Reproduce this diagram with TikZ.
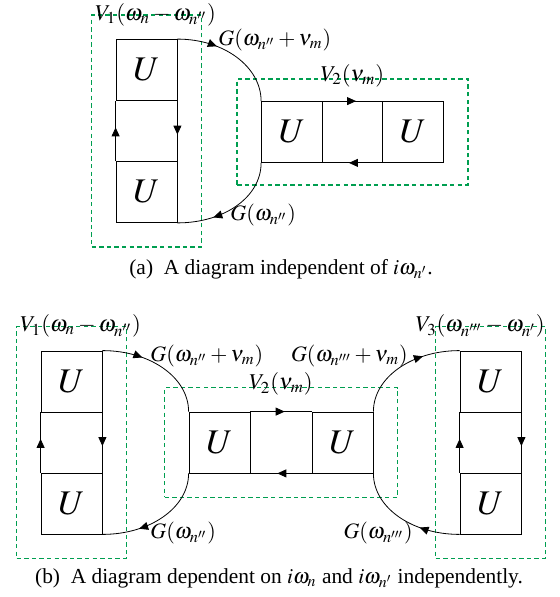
\documentclass[tikz,border=0pt]{standalone}
\usepackage{mathptmx}
\usepackage[no-math]{fontspec}
\setmainfont{Liberation Serif}
\usetikzlibrary{arrows.meta,decorations.markings,fit}
\definecolor{boxgreen}{RGB}{0,158,80}
\tikzset{
  ubox/.style={rectangle, draw, minimum size=30.5pt, inner sep=0pt, font=\LARGE},
  vbox/.style={rectangle, draw=boxgreen, line width=0.65pt, dash pattern=on 2.2pt off 1.6pt, inner sep=12pt},
  vlab/.style={inner sep=0pt, font=\fontsize{11.3}{13}\selectfont},
  glab/.style={inner sep=0pt, anchor=west, font=\fontsize{11}{13}\selectfont},
  caplab/.style={font=\fontsize{10.7}{13}\selectfont},
  prop/.style={postaction={decorate}, decoration={markings,
      mark=at position #1 with {\arrow{Triangle[length=4.5pt,width=4pt]}}}},
  prop/.default=0.56
}

\begin{document}
\begin{tikzpicture}[x=0.5pt, y=-0.5pt]
  \useasboundingbox (0,0) rectangle (559,597);

  % (a) U boxes
  \node[ubox] (Ua1) at (146.5,70) {$U$};
  \node[ubox] (Ua2) at (146.5,192) {$U$};
  \node[ubox] (Ua3) at (292,132) {$U$};
  \node[ubox] (Ua4) at (413,132) {$U$};

  % (a) vertices
  \node[vbox, fit=(Ua1) (Ua2)] (V1a) {};
  \node[vbox, fit=(Ua3) (Ua4), inner ysep=11pt] (V2a) {};

  % (a) propagators
  \draw[prop] (Ua2.north west) -- (Ua1.south west);
  \draw[prop] (Ua1.south east) -- (Ua2.north east);
  \draw[prop] (Ua3.north east) -- (Ua4.north west);
  \draw[prop] (Ua4.south west) -- (Ua3.south east);
  \draw[prop=0.35] (Ua1.north east) .. controls +(47,0) and +(0,-34) .. (Ua3.north west);
  \draw[prop=0.68] (Ua3.south west) .. controls +(0,34) and +(47,0) .. (Ua2.south east);

  % (a) labels
  \node[vlab, anchor=west, xshift=2pt] (V1alab) at (V1a.north west) {$V_1(\omega_n-\omega_{n''})$};
  \node[vlab, yshift=1.5pt] (V2alab) at (V2a.north) {$V_2(\nu_m)$};
  \node[glab] (Ga1) at (218,40) {$G(\omega_{n''}+\nu_m)$};
  \node[glab] (Ga2) at (230,215) {$G(\omega_{n''})$};
  \node[caplab] (capa) at (281,269) {(a)\ \ A diagram independent of $i\omega_{n'}$.};

  % (b) U boxes
  \node[ubox] (Ub1) at (71.5,381.5) {$U$};
  \node[ubox] (Ub2) at (71.5,503.5) {$U$};
  \node[ubox] (Ub3) at (219.5,442.5) {$U$};
  \node[ubox] (Ub4) at (342.5,442.5) {$U$};
  \node[ubox] (Ub5) at (490.5,381.5) {$U$};
  \node[ubox] (Ub6) at (490.5,503.5) {$U$};

  % (b) vertices
  \node[vbox, fit=(Ub1) (Ub2)] (V1b) {};
  \node[vbox, fit=(Ub3) (Ub4)] (V2b) {};
  \node[vbox, fit=(Ub5) (Ub6)] (V3b) {};

  % (b) propagators
  \draw[prop] (Ub2.north west) -- (Ub1.south west);
  \draw[prop] (Ub1.south east) -- (Ub2.north east);
  \draw[prop] (Ub3.north east) -- (Ub4.north west);
  \draw[prop] (Ub4.south west) -- (Ub3.south east);
  \draw[prop] (Ub6.north west) -- (Ub5.south west);
  \draw[prop] (Ub5.south east) -- (Ub6.north east);
  \draw[prop=0.35] (Ub1.north east) .. controls +(48,0) and +(0,-34) .. (Ub3.north west);
  \draw[prop=0.68] (Ub3.south west) .. controls +(0,34) and +(48,0) .. (Ub2.south east);
  \draw[prop=0.68] (Ub4.north east) .. controls +(0,-34) and +(-48,0) .. (Ub5.north west);
  \draw[prop=0.35] (Ub6.south west) .. controls +(-48,0) and +(0,34) .. (Ub4.south east);

  % (b) labels
  \node[vlab, anchor=west, xshift=2pt] (V1blab) at (V1b.north west) {$V_1(\omega_n-\omega_{n''})$};
  \node[vlab, yshift=1.5pt] (V2blab) at (V2b.north) {$V_2(\nu_m)$};
  \node[vlab, anchor=east, xshift=-0.5pt] (V3blab) at (V3b.north east) {$V_3(\omega_{n'''}-\omega_{n'})$};
  \node[glab] (Gb1) at (150,356) {$G(\omega_{n''}+\nu_m)$};
  \node[glab, anchor=east] (Gb2) at (408,356) {$G(\omega_{n'''}+\nu_m)$};
  \node[glab] (Gb3) at (150,533) {$G(\omega_{n''})$};
  \node[glab, anchor=east] (Gb4) at (413,533) {$G(\omega_{n'''})$};
  \node[caplab] (capb) at (279,578) {(b)\ \ A diagram dependent on $i\omega_n$ and $i\omega_{n'}$ independently.};
\end{tikzpicture}
\end{document}
